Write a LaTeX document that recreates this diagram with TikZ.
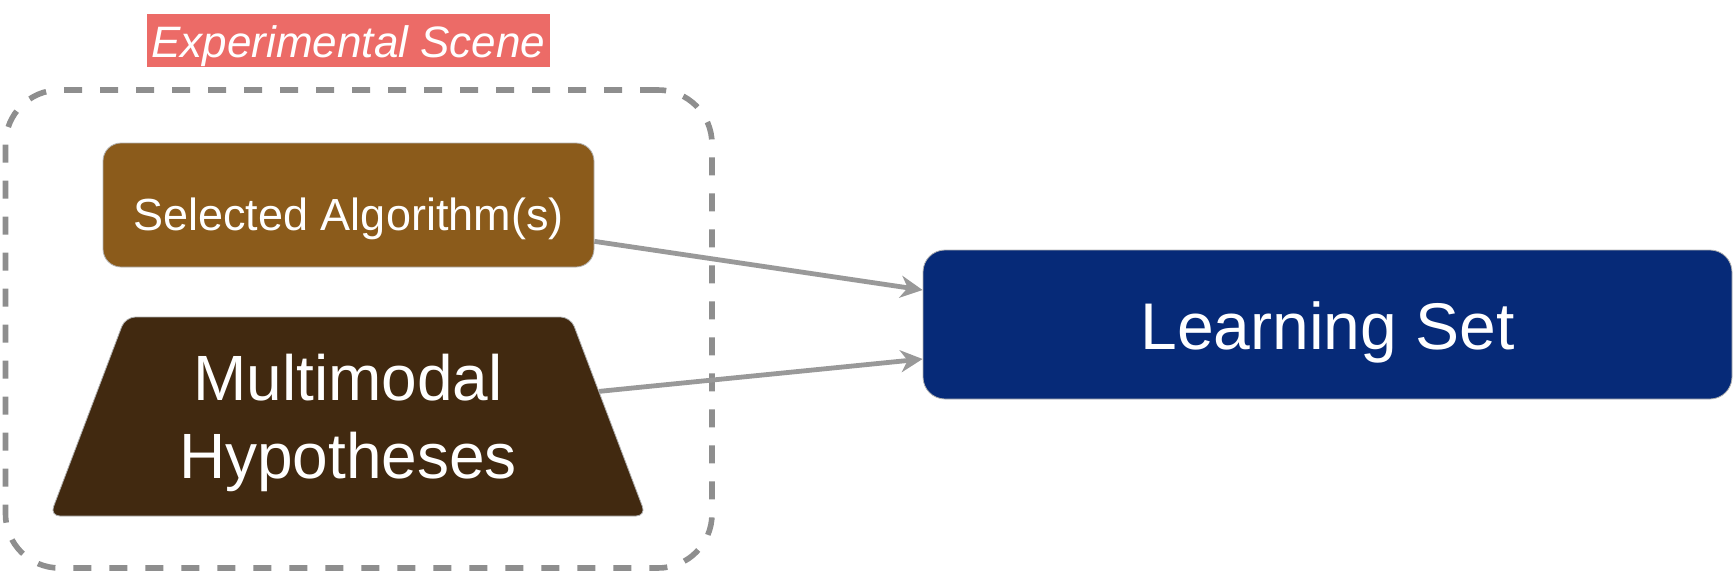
\documentclass[tikz,border=0pt]{standalone}
\usepackage{fontspec}
\setmainfont{Liberation Sans}
\usetikzlibrary{arrows.meta,shapes.geometric}
\definecolor{algbrown}{HTML}{8B5B1B}
\definecolor{hypbrown}{HTML}{412910}
\definecolor{lsblue}{HTML}{062A78}
\definecolor{tagred}{HTML}{EC6B67}
\definecolor{dashgray}{HTML}{8E8E8E}
\definecolor{arrowgray}{HTML}{999999}
\tikzset{
  boxstyle/.style={rectangle, text=white, draw=black!30, line width=0.4pt, align=center, inner sep=0pt, text depth=0pt},
  connector/.style={draw=arrowgray, line width=2.4pt, -{Stealth[length=11pt,width=11pt,inset=3.5pt]}},
}
\begin{document}
\begin{tikzpicture}[x=0.5pt,y=-0.5pt]
\useasboundingbox (0,0) rectangle (1734,573);
% scene frame
\node (scene) [rectangle, draw=dashgray, line width=2.8pt, dash pattern=on 9pt off 9pt,
  rounded corners=27pt, minimum width=353.25pt, minimum height=239pt, inner sep=0pt] at (358.75,329) {};
% label
\node (tag) [rectangle, fill=tagred, text=white, minimum width=201.5pt, minimum height=26.5pt, inner sep=0pt,
  text height=17pt, text depth=0pt,
  font=\fontsize{22pt}{26pt}\selectfont\itshape] at (348.5,40.5) {Experimental Scene};
% selected algorithms
\node (alg) [boxstyle, fill=algbrown, rounded corners=9pt, minimum width=245.5pt, minimum height=62pt,
  text height=25pt, font=\fontsize{22.5pt}{27pt}\selectfont] at (348.5,205) {Selected Algorithm(s)};
% multimodal hypotheses
\node (hyp) [boxstyle, trapezium, trapezium left angle=58.5, trapezium right angle=58.5,
  trapezium stretches body, fill=hypbrown, rounded corners=5pt, minimum width=298pt, minimum height=99.5pt,
  text height=61.5pt, font=\fontsize{32pt}{39pt}\selectfont] at (348,416.5) {Multimodal\\Hypotheses};
% learning set
\node (ls) [boxstyle, fill=lsblue, rounded corners=11pt, minimum width=404.5pt, minimum height=74.5pt,
  text height=25pt, font=\fontsize{33pt}{40pt}\selectfont] at (1327.5,324.5) {Learning Set};
% connectors
\draw[connector] (alg) -- ([yshift=17.25pt]ls.west);
\draw[connector] (hyp) -- ([yshift=-17.25pt]ls.west);
\end{tikzpicture}
\end{document}
